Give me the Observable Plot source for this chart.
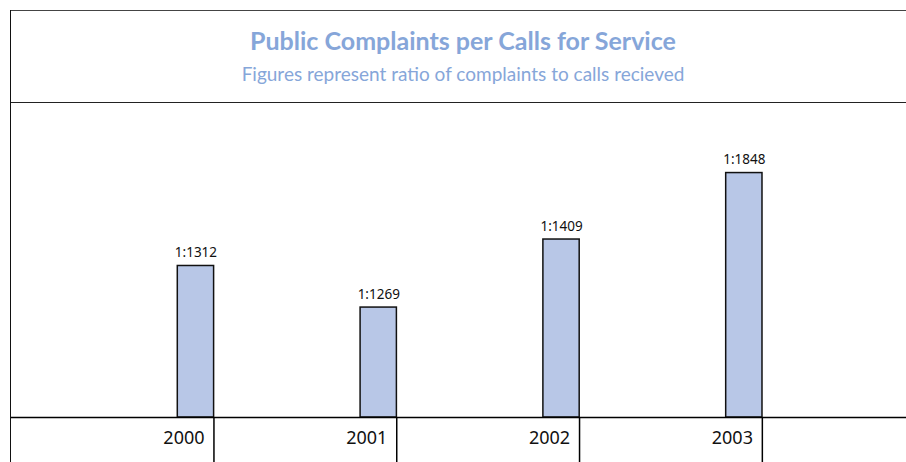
<!DOCTYPE html>
<html>
<head>
<meta charset="utf-8">
<script src="https://cdn.jsdelivr.net/npm/d3@7"></script>
<script src="https://cdn.jsdelivr.net/npm/@observablehq/plot@0.6"></script>
<style>
  html, body { margin: 0; padding: 0; background: #fff; }
  body { position: relative; width: 906px; height: 462px; overflow: hidden; }
  #vline { position: absolute; left: 10px; top: 10px; width: 0; height: 452px; border-left: 1.5px solid #111; }
  #header { position: absolute; left: 10px; top: 10px; right: 0; height: 91px;
            border-top: 1.5px solid #444; border-bottom: 1.5px solid #222; text-align: center; }
  #title { position: absolute; left: 0; right: -10px; top: 14px; font-family: Lato, "Open Sans", sans-serif;
           font-weight: bold; font-size: 25px; color: #86a6d9; }
  #subtitle { position: absolute; left: 0; right: -10px; top: 51px; font-family: Lato, "Open Sans", sans-serif;
              font-size: 19px; color: #86a6d9; }
  #chart { position: absolute; left: 0; top: 102px; }
</style>
</head>
<body>
<div id="header">
  <div id="title">Public Complaints per Calls for Service</div>
  <div id="subtitle">Figures represent ratio of complaints to calls recieved</div>
</div>
<div id="chart"></div>
<div id="vline"></div>
<script>
const years = ["2000", "2001", "2002", "2003"];
const ratios = [1312, 1269, 1409, 1848];
// bar heights as drawn in the picture (relative units)
const barHeights = [962, 698, 1130, 1552];

const data = years.map((year, i) => ({year, ratio: ratios[i], h: barHeights[i], label: "1:" + ratios[i]}));

const chart = Plot.plot({
  width: 906,
  height: 360,
  marginLeft: 10,
  marginRight: 0,
  marginTop: 0,
  marginBottom: 45,
  style: {fontFamily: "'Noto Sans', sans-serif", background: "transparent", overflow: "visible"},
  x: {type: "band", domain: years, paddingInner: 0.8014, paddingOuter: 0.8515, align: 0.5374, round: false, axis: null},
  y: {domain: [0, 2000], axis: null},
  marks: [
    Plot.barY(data, {x: "year", y: "h", fill: "#b8c7e7", stroke: "#111", strokeWidth: 1.5}),
    Plot.text(data, {x: "year", y: "h", text: "label", dy: -9, lineAnchor: "bottom", fontSize: 13.5, fill: "#111"}),
    Plot.ruleY([0], {stroke: "#000", strokeWidth: 1.5}),
    Plot.axisX({text: null, label: null, tickSize: 45, dx: 18, stroke: "#000", strokeWidth: 1.5}),
    Plot.axisX({tickSize: 0, label: null, tickPadding: 14, dx: -12, fontSize: 18, fill: "#111"})
  ]
});
document.getElementById("chart").appendChild(chart);
</script>
</body>
</html>
